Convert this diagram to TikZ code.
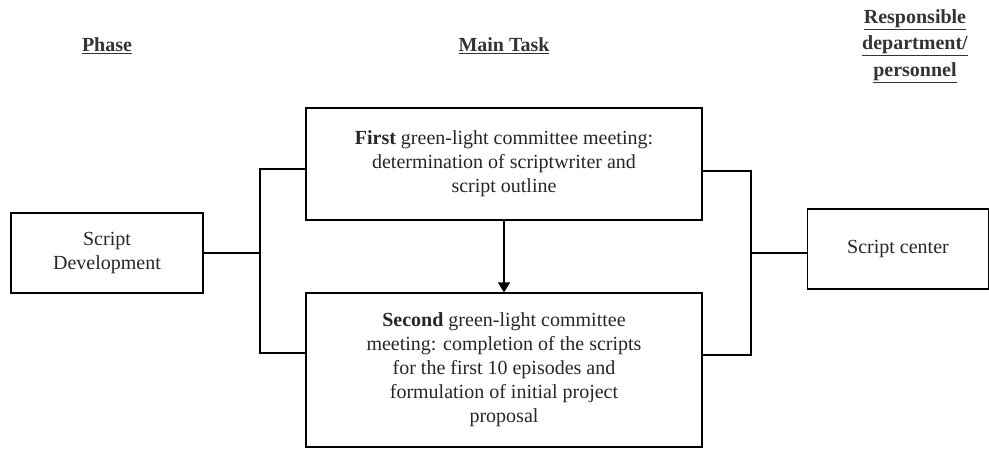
\documentclass[tikz,border=0pt]{standalone}
\usepackage{fontspec}
\setmainfont{Liberation Serif}
\usetikzlibrary{arrows.meta}
\tikzset{
  box/.style={draw, line width=1.1pt, text=black!85, align=center, inner sep=0pt},
  head/.style={font=\fontsize{20}{26.5}\selectfont\bfseries, text=black!80, align=center},
  link/.style={line width=1.1pt}
}
\begin{document}
\begin{tikzpicture}[x=1pt, y=-1pt, font=\fontsize{20}{24}\selectfont]
  \useasboundingbox (0,0) rectangle (989,448);
  \node[head] (hphase) at (107,46) {\underline{Phase}};
  \node[head] (htask) at (504,46) {\underline{Main Task}};
  \node[head] (hresp) at (915,46) {\underline{Responsible}\\\underline{department/}\\\underline{personnel}};
  \node[box, minimum width=192pt, minimum height=80pt] (phase) at (107,253) {Script\\Development};
  \node[box, minimum width=396pt, minimum height=112pt] (first) at (504,164) {\textbf{First} green-light committee meeting:\\determination of scriptwriter and\\script outline};
  \node[box, minimum width=396pt, minimum height=154pt] (second) at (504,370) {\textbf{Second} green-light committee\\meeting: completion of the scripts\\for the first 10 episodes and\\formulation of initial project\\proposal};
  \node[box, minimum width=181pt, minimum height=80pt] (center) at (898,249) {Script center};
  \coordinate (lb) at (260,253);
  \coordinate (rb) at (751,253);
  \draw[link] (phase.east) -- (lb);
  \draw[link] ([yshift=-5pt]first.west) -| (lb) |- ([yshift=17pt]second.west);
  \draw[link] ([yshift=-7pt]first.east) -| (rb) |- ([yshift=15pt]second.east);
  \draw[link] (rb) -- (rb -| center.west);
  \draw[link, -{Triangle[width=12pt, length=10pt]}] (first.south) -- (second.north);
\end{tikzpicture}
\end{document}
